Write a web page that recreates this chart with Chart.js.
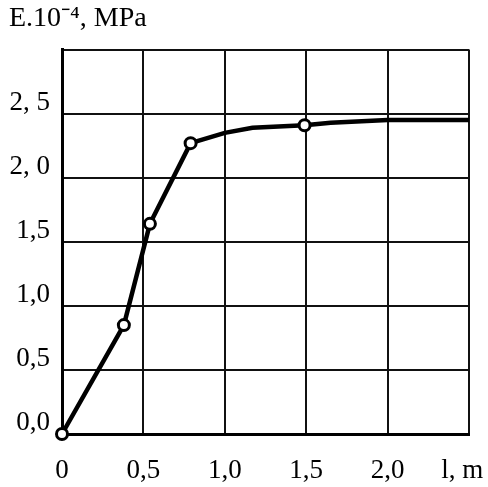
<!DOCTYPE html>
<html>
<head>
<meta charset="utf-8">
<script src="https://cdn.jsdelivr.net/npm/chart.js@4/dist/chart.umd.min.js"></script>
<style>
html,body{margin:0;padding:0;background:#fff;}
#wrap{width:488px;height:487px;position:relative;}
</style>
</head>
<body>
<div id="wrap"><canvas id="c"></canvas></div>
<script>
// Data
const lengthM   = [0, 0.38, 0.54, 0.79, 1.0, 1.17, 1.49, 1.65, 2.0, 2.5];
const modulusE  = [0, 0.85, 1.64, 2.27, 2.35, 2.39, 2.41, 2.43, 2.45, 2.45];
const measured  = [1, 1, 1, 1, 0, 0, 1, 0, 0, 0];
const yTickValues = [0, 0.5, 1.0, 1.5, 2.0, 2.5, 3.0];
const yTickLabels = ['0,0', '0,5', '1,0', '1,5', '2, 0', '2, 5', ''];
const xTickValues = [0, 0.5, 1.0, 1.5, 2.0, 2.5];
const xTickLabels = ['0', '0,5', '1,0', '1,5', '2,0', 'l, m  '];
const titleText = 'E.10\u207B\u2074, MPa';

const FONT = "'Liberation Serif', 'Times New Roman', serif";
const points = lengthM.map((x, i) => ({x: x, y: modulusE[i]}));

function labelFor(values, labels, v) {
  for (let i = 0; i < values.length; i++) {
    if (Math.abs(values[i] - v) < 1e-6) return labels[i];
  }
  return '';
}

new Chart(document.getElementById('c'), {
  type: 'line',
  data: {
    datasets: [{
      data: points,
      clip: false,
      borderColor: '#000',
      borderWidth: 4.5,
      tension: 0,
      fill: false,
      pointRadius: measured.map(m => m ? 5.5 : 0),
      pointHoverRadius: measured.map(m => m ? 5.5 : 0),
      pointBackgroundColor: '#fff',
      pointBorderColor: '#000',
      pointBorderWidth: 3
    }]
  },
  options: {
    responsive: true,
    maintainAspectRatio: false,
    animation: false,
    layout: { padding: { left: 9, right: 19, top: 0, bottom: 0 } },
    plugins: {
      legend: { display: false },
      tooltip: { enabled: false },
      title: {
        display: true,
        text: titleText,
        align: 'start',
        color: '#000',
        font: { family: FONT, size: 28, weight: 'normal' },
        padding: { top: 2, bottom: 14 }
      }
    },
    scales: {
      x: {
        type: 'linear',
        min: 0,
        max: 2.5,
        afterBuildTicks: s => { s.ticks = xTickValues.map(v => ({value: v})); },
        afterFit: s => { s.height = 53; s.paddingLeft = 0; s.paddingRight = 0; },
        grid: { color: '#111', lineWidth: 2, drawTicks: false },
        border: { color: '#000', width: 3 },
        ticks: {
          color: '#000',
          padding: 21,
          maxRotation: 0,
          autoSkip: false,
          font: { family: FONT, size: 27 },
          callback: v => labelFor(xTickValues, xTickLabels, v)
        }
      },
      y: {
        type: 'linear',
        min: 0,
        max: 3,
        afterBuildTicks: s => { s.ticks = yTickValues.map(v => ({value: v})); },
        afterFit: s => { s.width = 53; s.paddingTop = 0; s.paddingBottom = 0; },
        grid: { color: '#111', lineWidth: 2, drawTicks: false },
        border: { color: '#000', width: 3 },
        ticks: {
          color: '#000',
          padding: 12,
          labelOffset: -11,
          autoSkip: false,
          font: { family: FONT, size: 27 },
          callback: v => labelFor(yTickValues, yTickLabels, v)
        }
      }
    }
  }
});
</script>
</body>
</html>
